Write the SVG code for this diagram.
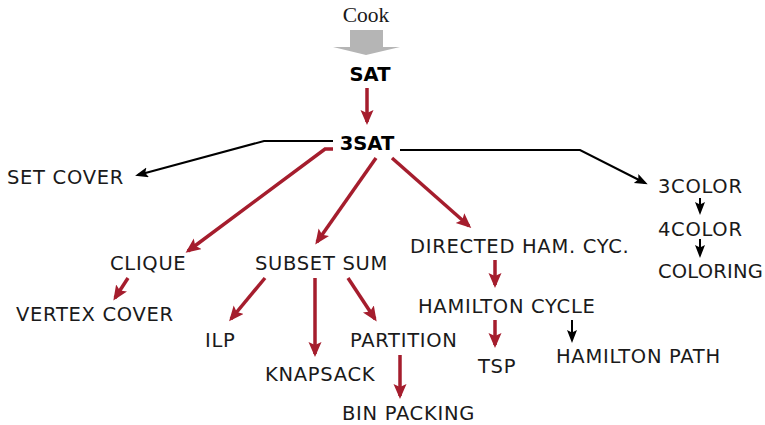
<svg xmlns="http://www.w3.org/2000/svg" width="765" height="425" viewBox="0 0 765 425">
<defs>
<marker id="hr" markerUnits="userSpaceOnUse" markerWidth="16" markerHeight="14" refX="12" refY="6.5" orient="auto">
<path d="M0,0 L15,6.5 L0,13 L3,6.5 z" fill="#a51d2d"/>
</marker>
<marker id="hb" markerUnits="userSpaceOnUse" markerWidth="14" markerHeight="12" refX="10" refY="5" orient="auto">
<path d="M0,0 L13,5 L0,10 L2.5,5 z" fill="#000"/>
</marker>
</defs>
<style>
text{font-family:"DejaVu Sans",sans-serif;font-size:19.5px;letter-spacing:0.7px;fill:#1a1a1a}
.b{font-weight:bold;fill:#000;letter-spacing:0}
.cook{font-family:"Liberation Serif",serif;font-size:21.5px;letter-spacing:0}
.r{fill:none;stroke:#a51d2d;stroke-width:3.5;marker-end:url(#hr)}
.k{fill:none;stroke:#000;stroke-width:2;marker-end:url(#hb)}
</style>
<g id="cook">
<text class="cook" x="366" y="22" text-anchor="middle">Cook</text>
<path d="M350,30 L383,30 L383,47 L400,47 L366,55 L333,47 L350,47 z" fill="#b5b5b5"/>
</g>
<g id="connectors">
<path class="r" d="M367,88 L367,122"/>
<path class="k" d="M333,141 L264,141 L138,175"/>
<path class="r" d="M333,149 L325,149 L188,251"/>
<path class="r" d="M376,158 L317,242"/>
<path class="r" d="M392,158 L469,226"/>
<path class="k" d="M400,150 L580,150 L645,183"/>
<path class="k" d="M700,198 L700,212"/>
<path class="k" d="M700,239 L700,255"/>
<path class="r" d="M495,260 L495,285"/>
<path class="r" d="M495,320 L495,345"/>
<path class="k" d="M572,320 L572,340"/>
<path class="r" d="M128,278 L115,298"/>
<path class="r" d="M265,278 L231,319"/>
<path class="r" d="M315,278 L315,354"/>
<path class="r" d="M348,278 L375,319"/>
<path class="r" d="M400,355 L400,396"/>
</g>
<g id="sat"><text class="b" x="370" y="81" text-anchor="middle">SAT</text></g>
<g id="3sat"><text class="b" x="367" y="150" text-anchor="middle">3SAT</text></g>
<g id="setcover"><text x="7" y="184">SET COVER</text></g>
<g id="clique"><text x="110" y="270">CLIQUE</text></g>
<g id="vertexcover"><text x="16" y="321">VERTEX COVER</text></g>
<g id="subsetsum"><text x="255" y="270">SUBSET SUM</text></g>
<g id="ilp"><text x="205" y="347">ILP</text></g>
<g id="knapsack"><text x="265" y="381">KNAPSACK</text></g>
<g id="partition"><text x="350" y="347">PARTITION</text></g>
<g id="binpacking"><text x="342" y="420">BIN PACKING</text></g>
<g id="dhc"><text x="410" y="253">DIRECTED HAM. CYC.</text></g>
<g id="hc"><text x="418" y="313">HAMILTON CYCLE</text></g>
<g id="tsp"><text x="478" y="373">TSP</text></g>
<g id="hp"><text x="556" y="363">HAMILTON PATH</text></g>
<g id="3color"><text x="658" y="193">3COLOR</text></g>
<g id="4color"><text x="658" y="236">4COLOR</text></g>
<g id="coloring"><text x="658" y="278" style="letter-spacing:0.2px">COLORING</text></g>
</svg>
